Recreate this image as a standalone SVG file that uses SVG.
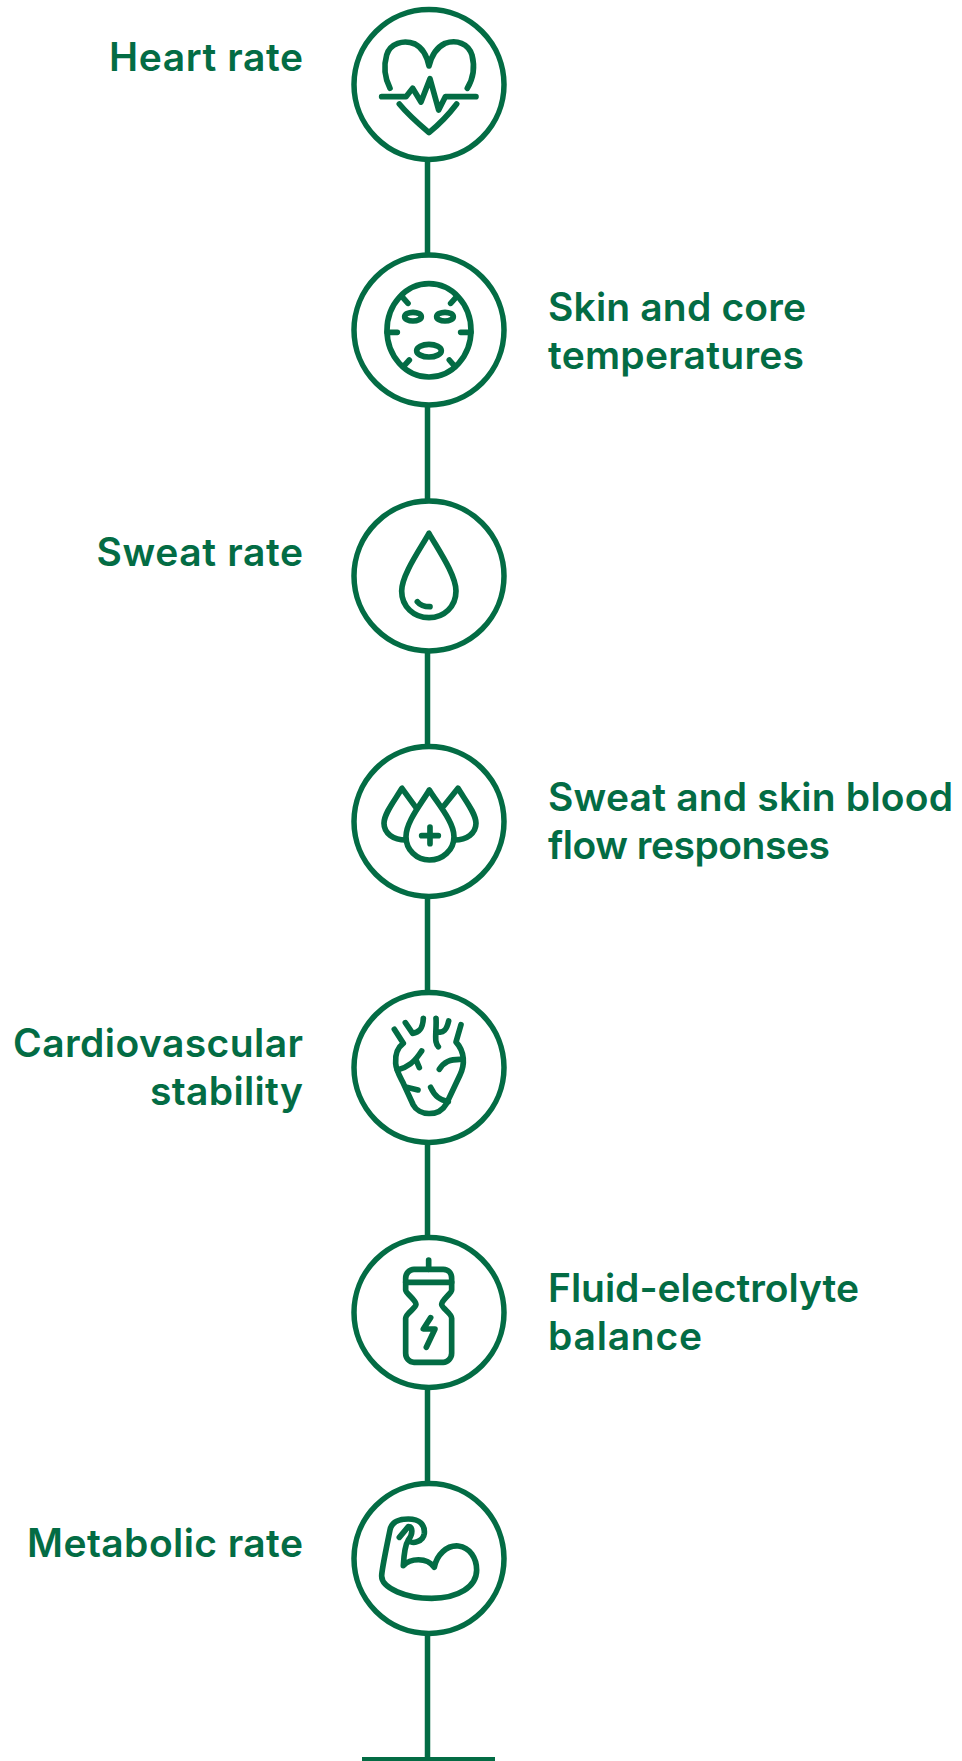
<svg xmlns="http://www.w3.org/2000/svg" width="962" height="1761" viewBox="0 0 962 1761">
<style>
.bg{fill:#fff}
.l{fill:none;stroke:#036c44;stroke-width:5.500}
.c{fill:#fff;stroke:#036c44;stroke-width:5.500}
.i{fill:none;stroke:#036c44;stroke-width:17;stroke-linecap:round;stroke-linejoin:round}
text{font-family:"Inter","Liberation Sans",sans-serif;font-weight:600;font-size:39px;fill:#036c44}
.r{text-anchor:end}
</style>
<rect class="bg" width="962" height="1761"/>
<g id="connectors">
<path class="l" d="M427.500 160V1758"/>
<path d="M362 1757H495V1761H362Z" fill="#036c44"/>
</g>
<g id="node-heart-rate">
<circle class="c" cx="429" cy="84.500" r="75"/>
<g transform="translate(340 0) scale(.3333)"><path class="i" d="M150 265C135 235 130 200 140 165C150 130 190 118 225 132C245 142 260 165 267 198C275 165 290 142 315 130C350 118 385 130 396 165C405 200 400 235 382 265"/><path class="i" d="M125 290H198L218 265L243 306L270 236L296 330L316 290H408"/><path class="i" d="M178 312C205 345 240 375 267 398C295 375 325 345 350 312"/></g>
<text class="r" x="303" y="70.500" textLength="194">Heart rate</text>
</g>
<g id="node-skin">
<circle class="c" cx="429" cy="330" r="75"/>
<g transform="translate(340 245) scale(.3333)"><ellipse class="i" cx="267" cy="256" rx="126" ry="140"/><ellipse class="i" cx="219" cy="215" rx="25" ry="13"/><ellipse class="i" cx="315" cy="215" rx="25" ry="13"/><ellipse class="i" cx="267" cy="317" rx="37" ry="19"/><path class="i" d="M141 262H172M362 262H393M186 155L204 175M350 155L332 175M190 365L208 345M345 365L328 345"/></g>
<text x="548" y="321" textLength="258">Skin and core</text><text x="548" y="369" textLength="256">temperatures</text>
</g>
<g id="node-sweat-rate">
<circle class="c" cx="429" cy="576" r="75"/>
<g transform="translate(340 490) scale(.3333)"><path class="i" d="M267 130C240 178 185 255 185 303C185 350 222 383 267 383C312 383 348 350 348 303C348 255 294 178 267 130Z"/><path class="i" d="M232 335C240 345 255 350 270 350"/></g>
<text class="r" x="303" y="565.500" textLength="206.500">Sweat rate</text>
</g>
<g id="node-sweat-blood">
<circle class="c" cx="429" cy="821.500" r="75"/>
<g transform="translate(340 735) scale(.3333)"><path class="i" d="M268 165C245 205 198 260 198 305C198 345 230 375 268 375C308 375 342 345 342 305C342 260 292 205 268 165Z"/><path class="i" d="M228 218L186 160C165 195 132 235 132 265C132 295 160 315 198 315"/><path class="i" d="M312 212L354 160C375 195 408 235 408 265C408 295 380 315 344 315"/><path class="i" d="M270 276V326M245 302H295"/></g>
<text x="548" y="811" textLength="405">Sweat and skin blood</text><text x="548" y="859" textLength="282">flow responses</text>
</g>
<g id="node-cardio">
<circle class="c" cx="429" cy="1067.500" r="75"/>
<g transform="translate(340 980) scale(.3333)"><path class="i" d="M163 148L190 190C170 205 165 225 167 250C168 270 180 290 190 310L220 375C235 405 295 415 320 370L360 285C375 255 375 215 348 186L363 134"/><path class="i" d="M196 128L218 160C235 158 248 150 250 115M288 115C290 140 285 170 288 185C290 195 293 198 295 200M293 155C310 160 320 150 326 123"/><path class="i" d="M172 270C205 262 225 245 245 213M228 240L238 263M298 268C312 245 330 238 360 238M200 322L234 330M272 322C285 350 300 360 325 365"/></g>
<text class="r" x="303" y="1057" textLength="290">Cardiovascular</text><text class="r" x="303" y="1104.500" textLength="153">stability</text>
</g>
<g id="node-fluid">
<circle class="c" cx="429" cy="1312.500" r="75"/>
<g transform="translate(340 1225) scale(.3333)"><path class="i" d="M222 133H310C325 133 335 145 335 160V195C335 205 305 225 305 238C305 250 335 265 335 280V385C335 400 322 412 310 412H222C208 412 197 400 197 385V280C197 265 228 250 228 238C228 225 197 205 197 195V160C197 145 208 133 222 133Z"/><path class="i" d="M197 172H335M266 105V133M272 278L250 312H285L259 367"/></g>
<text x="548" y="1302" textLength="311">Fluid-electrolyte</text><text x="548" y="1350" textLength="154">balance</text>
</g>
<g id="node-metabolic">
<circle class="c" cx="429" cy="1558.500" r="75"/>
<g transform="translate(340 1470) scale(.3333)"><path class="i" d="M178 202L205 170C218 170 220 190 205 210C195 225 192 250 190 287C210 265 260 260 283 292C290 255 320 225 355 228C390 232 410 265 410 300C410 350 355 385 275 385C200 385 125 355 125 318C125 300 140 230 150 180C155 155 175 147 205 147C240 147 255 165 253 190C250 215 215 225 205 210"/></g>
<text class="r" x="303" y="1557" textLength="276">Metabolic rate</text>
</g>
</svg>
